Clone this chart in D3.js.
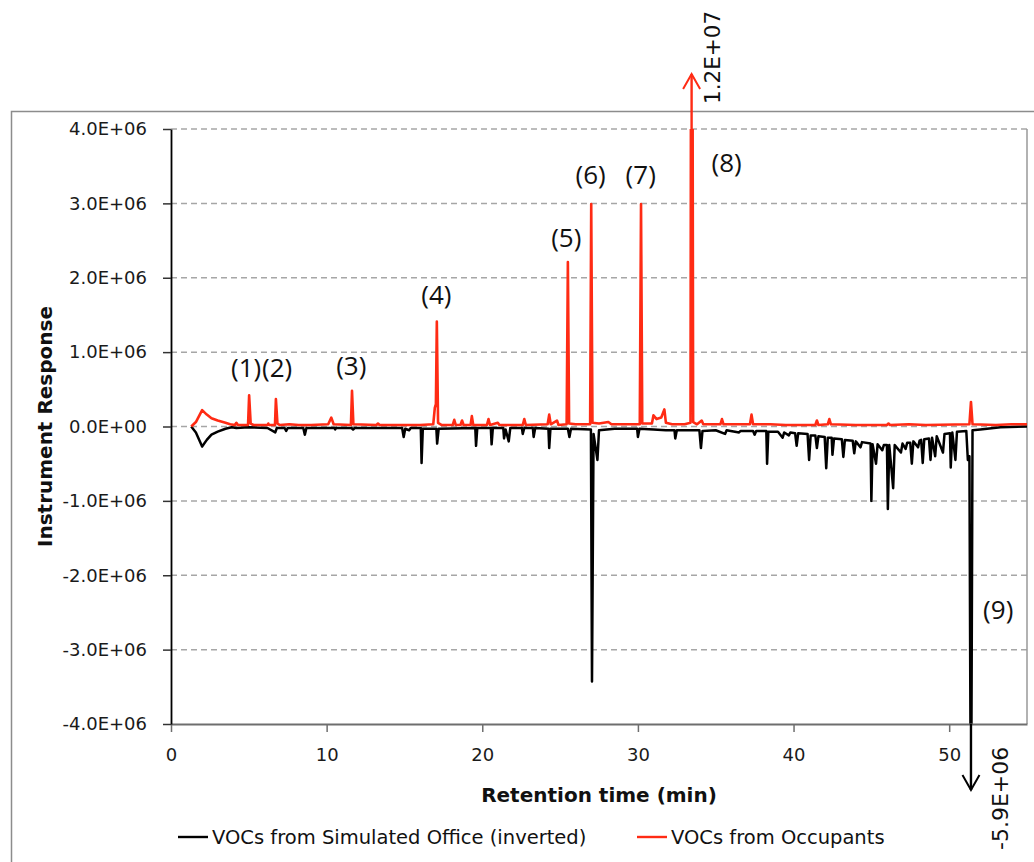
<!DOCTYPE html>
<html>
<head>
<meta charset="utf-8">
<script src="https://cdn.jsdelivr.net/npm/d3@7"></script>
<style>
  body { margin: 0; background: #fff; }
  svg { display: block; }
</style>
</head>
<body>
<svg id="chart" width="1034" height="862"></svg>
<script>
// Axis ticks and their printed labels (response in units of 1E+06)
const xTickValues = [0, 10, 20, 30, 40, 50];
const xTickLabels = ["0", "10", "20", "30", "40", "50"];
const yTickValues = [-4, -3, -2, -1, 0, 1, 2, 3, 4];
const yTickLabels = ["-4.0E+06", "-3.0E+06", "-2.0E+06", "-1.0E+06", "0.0E+00",
                     "1.0E+06", "2.0E+06", "3.0E+06", "4.0E+06"];

const seriesNames = ["VOCs from Simulated Office (inverted)", "VOCs from Occupants"];
const seriesColors = ["#000000", "#ff2b14"];

// Chromatogram traces: [retention time (min), response (x1E+06)]
const officeTrace = [
  [1.3,0],[1.6,-0.08],[2.0,-0.27],[2.3,-0.18],[2.6,-0.11],[3.0,-0.07],[3.5,-0.03],[3.9,-0.01],
  [4.2,-0.02],[5.0,-0.01],[6.2,-0.02],[6.7,-0.08],[6.8,-0.02],[7.3,-0.02],[7.4,-0.06],[7.5,-0.02],
  [8.5,-0.02],[8.6,-0.11],[8.7,-0.02],[10.5,-0.02],[10.55,-0.04],[10.6,-0.02],[11.6,-0.02],
  [11.7,-0.04],[11.8,-0.02],[14.85,-0.02],[14.95,-0.14],[15.05,-0.03],[15.3,-0.05],[15.4,-0.02],
  [16.05,-0.02],[16.1,-0.49],[16.18,-0.03],[17.05,-0.03],[17.1,-0.23],[17.2,-0.03],
  [19.55,-0.02],[19.6,-0.26],[19.68,-0.02],[20.55,-0.02],[20.6,-0.24],[20.68,-0.02],
  [21.35,-0.02],[21.4,-0.16],[21.5,-0.04],[21.7,-0.2],[21.8,-0.02],[22.55,-0.02],[22.6,-0.1],
  [22.7,-0.02],[23.25,-0.02],[23.3,-0.14],[23.4,-0.02],[24.25,-0.03],[24.3,-0.29],[24.38,-0.03],
  [25.5,-0.03],[25.6,-0.14],[25.7,-0.03],[26.98,-0.04],[27.05,-3.43],[27.15,-0.1],[27.4,-0.45],
  [27.5,-0.05],[28.5,-0.03],[29.95,-0.03],[30.0,-0.14],[30.1,-0.03],[31.0,-0.04],[31.8,-0.05],
  [32.35,-0.05],[32.4,-0.16],[32.5,-0.05],[33.0,-0.05],[33.95,-0.05],[34.05,-0.29],[34.15,-0.06],
  [35.0,-0.05],[35.6,-0.1],[35.7,-0.05],[36.5,-0.08],[36.6,-0.06],[37.4,-0.06],[37.5,-0.11],
  [37.6,-0.06],[38.25,-0.06],[38.3,-0.5],[38.38,-0.07],[39.0,-0.07],[39.3,-0.15],[39.4,-0.08],
  [39.7,-0.12],[39.8,-0.08],[40.1,-0.09],[40.2,-0.26],[40.3,-0.09],[40.9,-0.1],[41.0,-0.45],
  [41.1,-0.12],[41.4,-0.12],[41.5,-0.29],[41.6,-0.13],[42.0,-0.14],[42.1,-0.56],[42.2,-0.15],
  [42.45,-0.15],[42.5,-0.38],[42.6,-0.16],[43.1,-0.17],[43.2,-0.41],[43.3,-0.18],[43.8,-0.19],
  [43.9,-0.36],[44.0,-0.2],[44.3,-0.28],[44.4,-0.21],[44.95,-0.23],[45.0,-1.0],[45.08,-0.24],
  [45.3,-0.5],[45.4,-0.24],[45.7,-0.32],[45.8,-0.25],[46.0,-0.25],[46.06,-1.11],[46.15,-0.25],
  [46.4,-0.83],[46.5,-0.25],[46.9,-0.35],[47.0,-0.23],[47.2,-0.3],[47.3,-0.22],[47.5,-0.22],
  [47.6,-0.5],[47.7,-0.2],[48.0,-0.28],[48.1,-0.19],[48.2,-0.18],[48.3,-0.49],[48.4,-0.17],
  [48.7,-0.16],[48.8,-0.45],[48.9,-0.15],[49.1,-0.4],[49.2,-0.13],[49.6,-0.35],[49.7,-0.1],
  [50.05,-0.09],[50.1,-0.55],[50.2,-0.08],[50.4,-0.45],[50.5,-0.07],[51.1,-0.06],[51.2,-0.45],
  [51.3,-0.4],[51.4,-5.9],[51.5,-0.05],[52.0,-0.04],[53.3,-0.01],[55.0,0]
];

const occupantsTrace = [
  [1.3,0],[1.6,0.06],[2.0,0.22],[2.3,0.16],[2.6,0.11],[3.0,0.08],[3.5,0.05],[3.8,0.03],
  [4.1,0.02],[4.2,0.05],[4.3,0.02],[4.95,0.02],[5.02,0.42],[5.12,0.04],[5.3,0.02],[6.2,0.02],
  [6.25,0.04],[6.3,0.02],[6.68,0.02],[6.74,0.37],[6.84,0.04],[7.0,0.02],[7.6,0.03],[8.2,0.02],
  [9.0,0.02],[10.1,0.03],[10.3,0.12],[10.45,0.03],[11.56,0.02],[11.63,0.48],[11.72,0.03],
  [13.2,0.02],[13.3,0.04],[13.4,0.02],[15.0,0.02],[16.0,0.02],[16.85,0.03],[16.95,0.25],
  [17.02,0.3],[17.08,1.41],[17.16,0.05],[17.4,0.02],[18.1,0.02],[18.2,0.09],[18.3,0.02],
  [18.6,0.02],[18.7,0.08],[18.8,0.02],[19.25,0.02],[19.33,0.14],[19.42,0.02],[20.3,0.02],
  [20.4,0.1],[20.5,0.02],[21.0,0.05],[21.1,0.02],[22.6,0.02],[22.7,0.1],[22.8,0.02],[24.2,0.03],
  [24.3,0.16],[24.4,0.03],[24.8,0.08],[24.9,0.02],[25.42,0.03],[25.5,2.21],[25.58,0.04],
  [26.0,0.03],[26.93,0.03],[27.0,2.99],[27.08,0.05],[27.5,0.04],[28.1,0.06],[28.3,0.03],
  [29.0,0.03],[30.12,0.03],[30.2,2.99],[30.28,0.04],[30.9,0.04],[31.0,0.15],[31.2,0.1],
  [31.5,0.12],[31.7,0.23],[31.8,0.05],[32.2,0.03],[33.0,0.03],[33.38,0.05],[33.45,12.0],
  [33.55,0.06],[33.8,0.03],[34.1,0.08],[34.2,0.03],[35.3,0.03],[35.4,0.1],[35.5,0.03],
  [37.2,0.03],[37.3,0.16],[37.4,0.03],[38.5,0.03],[39.5,0.02],[41.4,0.02],[41.5,0.08],
  [41.6,0.02],[42.2,0.03],[42.3,0.1],[42.4,0.03],[44.0,0.02],[46.0,0.02],[46.1,0.04],
  [46.2,0.02],[47.4,0.03],[48.5,0.02],[51.3,0.03],[51.4,0.33],[51.5,0.03],[53.0,0.02],
  [54.0,0.03],[55.0,0.03]
];

// Numbered compound labels, anchored at (time, response)
const peakLabels = ["(1)", "(2)", "(3)", "(4)", "(5)", "(6)", "(7)", "(8)", "(9)"];
const peakLabelTime = [4.83, 6.82, 11.58, 17.05, 25.4, 26.96, 30.18, 35.7, 53.15];
const peakLabelResponse = [0.665, 0.665, 0.69, 1.646, 2.41, 3.26, 3.26, 3.42, -2.59];

// Peaks running off the scale, with their true apex values
const offScaleTime = [33.45, 51.4];
const offScaleValue = [12.0, -5.9];
const offScaleText = ["1.2E+07", "-5.9E+06"];

const svg = d3.select("#chart");
const plot = { left: 171, right: 1027, top: 129, bottom: 724 };

const x = d3.scaleLinear().domain([0, 55]).range([plot.left, plot.right]);
const y = d3.scaleLinear().domain([-4, 4]).range([plot.bottom, plot.top]);

const tickFont = "DejaVu Sans, sans-serif";

// Chart area border
svg.append("rect")
  .attr("x", 11.5).attr("y", 111.5).attr("width", 1040).attr("height", 800)
  .attr("fill", "none").attr("stroke", "#8c8c8c").attr("stroke-width", 1.5);

// Horizontal dashed gridlines
svg.append("g")
  .selectAll("line")
  .data(yTickValues.filter(v => v !== -4))
  .join("line")
  .attr("x1", plot.left).attr("x2", plot.right)
  .attr("y1", d => y(d)).attr("y2", d => y(d))
  .attr("stroke", "#a6a6a6").attr("stroke-width", 1.5)
  .attr("stroke-dasharray", "6,4");

// Right edge of plot area
svg.append("line")
  .attr("x1", plot.right).attr("x2", plot.right)
  .attr("y1", plot.top).attr("y2", plot.bottom)
  .attr("stroke", "#999").attr("stroke-width", 1.5);

// Clip for the traces
svg.append("defs").append("clipPath").attr("id", "plotClip")
  .append("rect")
  .attr("x", plot.left).attr("y", plot.top)
  .attr("width", plot.right - plot.left).attr("height", plot.bottom - plot.top);

const line = d3.line().x(d => x(d[0])).y(d => y(d[1]));

const traces = svg.append("g").attr("clip-path", "url(#plotClip)");
traces.append("path")
  .datum(officeTrace)
  .attr("d", line)
  .attr("fill", "none").attr("stroke", seriesColors[0])
  .attr("stroke-width", 2.5).attr("stroke-linejoin", "round");
traces.append("path")
  .datum(occupantsTrace)
  .attr("d", line)
  .attr("fill", "none").attr("stroke", seriesColors[1])
  .attr("stroke-width", 2.6).attr("stroke-linejoin", "round");

// X axis
const xAxis = svg.append("g")
  .attr("transform", `translate(0,${plot.bottom})`)
  .call(d3.axisBottom(x).tickValues(xTickValues)
    .tickFormat((d, i) => xTickLabels[i]).tickSize(8).tickSizeOuter(0).tickPadding(16));
xAxis.select(".domain").attr("stroke", "#6e6e6e").attr("stroke-width", 2);
xAxis.selectAll(".tick line").attr("stroke", "#6e6e6e").attr("stroke-width", 1.5);
xAxis.selectAll(".tick text")
  .attr("font-family", tickFont).attr("font-size", 18).attr("fill", "#1a1a1a");

// Y axis
const yAxis = svg.append("g")
  .attr("transform", `translate(${plot.left},0)`)
  .call(d3.axisLeft(y).tickValues(yTickValues)
    .tickFormat((d, i) => yTickLabels[i]).tickSize(8).tickSizeOuter(0).tickPadding(16));
yAxis.select(".domain").attr("stroke", "#000").attr("stroke-width", 1.8);
yAxis.selectAll(".tick line").attr("stroke", "#333").attr("stroke-width", 1.5);
yAxis.selectAll(".tick text")
  .attr("font-family", tickFont).attr("font-size", 18).attr("fill", "#1a1a1a");

// Axis titles
svg.append("text")
  .attr("x", (plot.left + plot.right) / 2).attr("y", 802)
  .attr("text-anchor", "middle")
  .attr("font-family", tickFont).attr("font-weight", "bold").attr("font-size", 20)
  .attr("fill", "#111")
  .text("Retention time (min)");

svg.append("text")
  .attr("transform", `translate(52,${(plot.top + plot.bottom) / 2}) rotate(-90)`)
  .attr("text-anchor", "middle")
  .attr("font-family", tickFont).attr("font-weight", "bold").attr("font-size", 20)
  .attr("fill", "#111")
  .text("Instrument Response");

// Peak labels
svg.append("g")
  .selectAll("text")
  .data(peakLabels)
  .join("text")
  .attr("x", (d, i) => x(peakLabelTime[i]))
  .attr("y", (d, i) => y(peakLabelResponse[i]))
  .attr("text-anchor", "middle")
  .attr("font-family", "Open Sans, sans-serif").attr("font-size", 26)
  .attr("fill", "#111")
  .text(d => d);

// Off-scale peaks: shaft continues past the axis limit with an arrowhead and value
const arrowTipY = [74, 790];
const arrowDir = [-1, 1];
offScaleTime.forEach((t, i) => {
  const px = x(t);
  const edge = offScaleValue[i] > 0 ? y(4) : y(-4);
  const tip = arrowTipY[i];
  const g = svg.append("g")
    .attr("stroke", seriesColors[i === 0 ? 1 : 0]).attr("fill", "none");
  g.append("line")
    .attr("x1", px).attr("x2", px).attr("y1", edge).attr("y2", tip)
    .attr("stroke-width", 2.4);
  g.append("polyline")
    .attr("points", [[px - 8.5, tip - arrowDir[i] * 15], [px, tip], [px + 8.5, tip - arrowDir[i] * 15]].join(" "))
    .attr("stroke-width", 2).attr("stroke-linejoin", "miter");
});

svg.append("text")
  .attr("transform", `translate(${x(offScaleTime[0]) + 28},104) rotate(-90)`)
  .attr("font-family", tickFont).attr("font-size", 21.5).attr("fill", "#111")
  .text(offScaleText[0]);

svg.append("text")
  .attr("transform", `translate(${x(offScaleTime[1]) + 37},850) rotate(-90)`)
  .attr("font-family", tickFont).attr("font-size", 22).attr("fill", "#111")
  .text(offScaleText[1]);

// Legend
const legendX = [178, 637];
const legend = svg.append("g");
seriesNames.forEach((name, i) => {
  legend.append("line")
    .attr("x1", legendX[i]).attr("x2", legendX[i] + 30)
    .attr("y1", 837).attr("y2", 837)
    .attr("stroke", seriesColors[i]).attr("stroke-width", 2.4);
  legend.append("text")
    .attr("x", legendX[i] + 34).attr("y", 844)
    .attr("font-family", tickFont).attr("font-size", 19.5).attr("fill", "#111")
    .text(name);
});
</script>
</body>
</html>
